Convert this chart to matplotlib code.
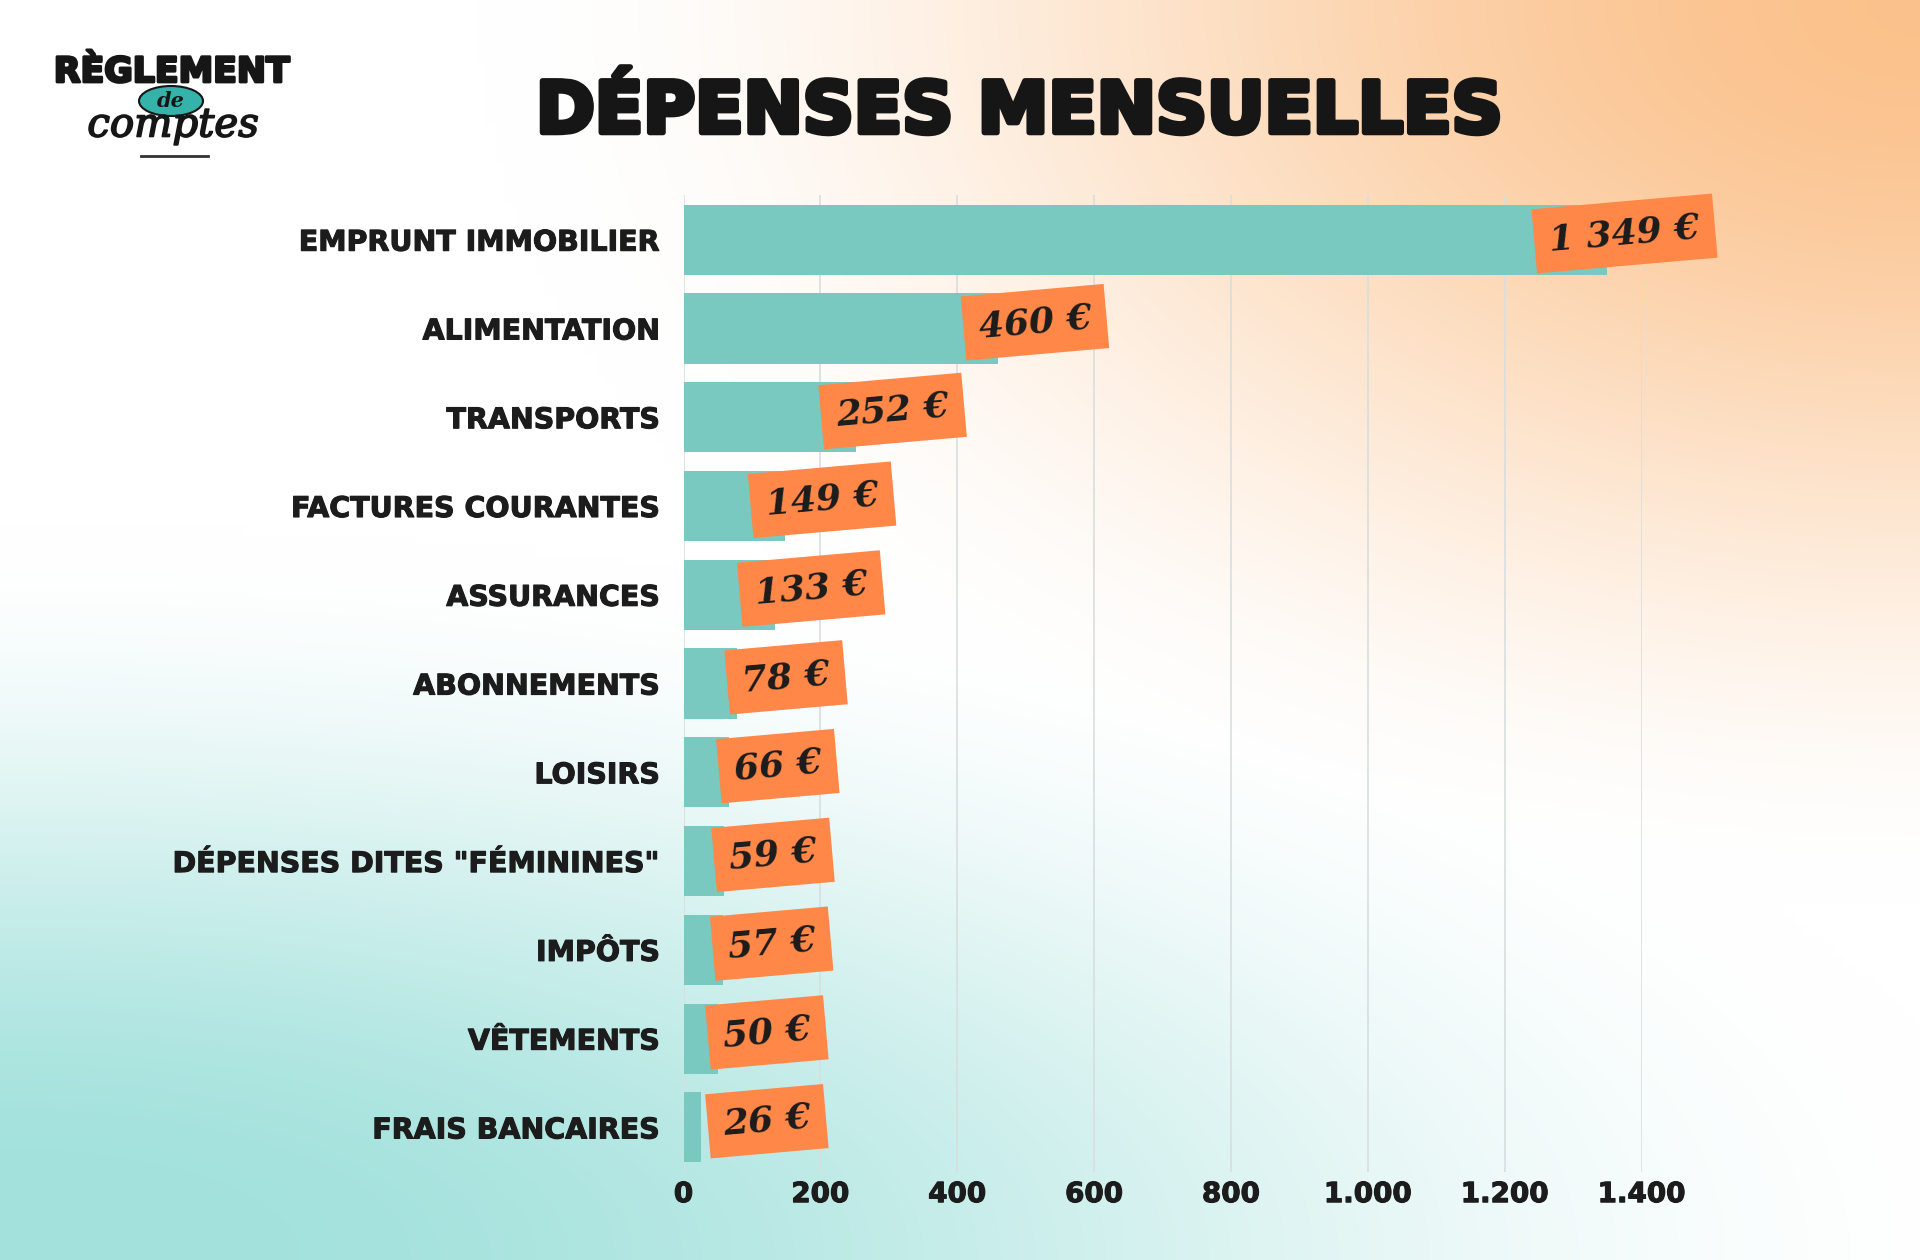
import matplotlib
matplotlib.use("Agg")
import matplotlib.pyplot as plt
import matplotlib.patches as mpatches
import matplotlib.patheffects as pe
import matplotlib.ticker as mticker
import numpy as np

categories = ["EMPRUNT IMMOBILIER", "ALIMENTATION", "TRANSPORTS", "FACTURES COURANTES",
              "ASSURANCES", "ABONNEMENTS", "LOISIRS", 'DÉPENSES DITES "FÉMININES"',
              "IMPÔTS", "VÊTEMENTS", "FRAIS BANCAIRES"]
values = [1349, 460, 252, 149, 133, 78, 66, 59, 57, 50, 26]
value_labels = ["1 349 €", "460 €", "252 €", "149 €", "133 €", "78 €", "66 €",
                "59 €", "57 €", "50 €", "26 €"]
xticks = [0, 200, 400, 600, 800, 1000, 1200, 1400]

W, H = 1920, 1260
fig = plt.figure(figsize=(W / 100, H / 100), dpi=100)


def smooth(t):
    t = np.clip(t, 0, 1)
    return t * t * (3 - 2 * t)


# background gradient: peach top right, teal bottom left
bg = fig.add_axes([0, 0, 1, 1], zorder=0)
u, v = np.meshgrid(np.linspace(0, 1, 192), np.linspace(0, 1, 126))
d_o = np.sqrt(((1 - u) / 0.75) ** 2 + (v / 0.72) ** 2)
wo = smooth(1 - d_o)
d_t = np.sqrt((u / 1.05) ** 2 + ((1 - v) / 0.58) ** 2)
wt = smooth(1.1 * (1 - d_t))
orange = np.array([0.985, 0.76, 0.55])
teal = np.array([0.64, 0.885, 0.865])
img = 1 - wo[..., None] * (1 - orange) - wt[..., None] * (1 - teal)
bg.imshow(np.clip(img, 0, 1), extent=[0, 1, 0, 1], aspect="auto", interpolation="bilinear")
bg.axis("off")

ax = fig.add_axes([0.356, 0.070, 0.499, 0.775], zorder=1)
ax.patch.set_alpha(0)
y = np.arange(len(values))
ax.barh(y, values, height=0.79, color="#79C9C1", zorder=2)
ax.set_ylim(len(values) - 0.5, -0.5)
ax.set_xlim(0, 1400)
ax.set_xticks(xticks)
ax.xaxis.set_major_formatter(mticker.FuncFormatter(lambda x, p: f"{int(x):,}".replace(",", ".")))
ax.grid(axis="x", color="#d8dede", lw=1.2, zorder=0)
ax.set_axisbelow(True)
for s in ax.spines.values():
    s.set_visible(False)
ax.tick_params(axis="x", length=0, pad=6, labelsize=20, labelcolor="#1c1c1c")
ax.tick_params(axis="y", length=0, pad=17, labelsize=20.5, labelcolor="#1c1c1c")
ax.set_yticks(y)
ax.set_yticklabels(categories, fontweight="bold")
for lab in ax.get_xticklabels() + ax.get_yticklabels():
    lab.set_fontweight("bold")
    lab.set_path_effects([pe.withStroke(linewidth=0.8, foreground="#1c1c1c")])

# orange value tags
for yi, val, lab in zip(y, values, value_labels):
    xa = max(val, 50)
    ax.annotate(lab, (xa, yi - 0.07), xytext=(68, 0), textcoords="offset points",
                ha="right", va="center", rotation=5, fontsize=26,
                family="DejaVu Serif", fontweight="bold", fontstyle="italic", color="#1c1c1c",
                bbox=dict(boxstyle="square,pad=0.42", fc="#FF8747", ec="none"), zorder=5)

# title
fig.text(1020 / W, 1 - 113 / H, "DÉPENSES MENSUELLES", ha="center", va="center",
         fontsize=51, fontweight="bold", color="#161616",
         path_effects=[pe.withStroke(linewidth=4, foreground="#161616")])

# logo
fig.text(172 / W, 1 - 72 / H, "RÈGLEMENT", ha="center", va="center",
         fontsize=25, fontweight="bold", color="#161616",
         path_effects=[pe.withStroke(linewidth=2, foreground="#161616")])
fig.patches.append(mpatches.Ellipse((171 / W, 1 - 101 / H), 64 / W, 30 / H, angle=0,
                                    transform=fig.transFigure, fc="#35B3AA", ec="#161616",
                                    lw=1.5, zorder=3))
fig.text(171 / W, 1 - 101 / H, "de", ha="center", va="center", fontsize=15,
         family="DejaVu Serif", fontstyle="italic", fontweight="bold", color="#161616", zorder=4)
fig.text(173 / W, 1 - 126 / H, "comptes", ha="center", va="center", fontsize=29,
         family="DejaVu Serif", fontstyle="italic", color="#161616", zorder=4,
         path_effects=[pe.withStroke(linewidth=1.2, foreground="#161616")])
fig.lines.append(plt.Line2D([141 / W, 208 / W], [1 - 156 / H, 1 - 156 / H],
                            transform=fig.transFigure, color="#333333", lw=2))

fig.savefig("out.png", dpi=100)
